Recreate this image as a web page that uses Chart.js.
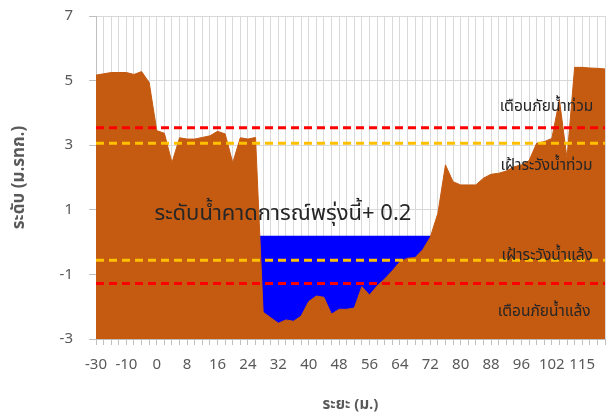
<!DOCTYPE html>
<html>
<head>
<meta charset="utf-8">
<script src="https://cdn.jsdelivr.net/npm/chart.js@4.4.1/dist/chart.umd.min.js"></script>
<style>
  body { margin: 0; background: #fff; }
  canvas { display: block; }
</style>
</head>
<body>
<canvas id="grafico" width="616" height="417"></canvas>
<script>
// ระยะ (ม.) - categories on the x axis
const distances = [
  -30, -25, -20, -15, -10, -7.5, -5, -2.5,
  0, 2, 4, 6, 8, 10, 12, 14, 16, 18, 20, 22, 24, 26, 28, 30, 32, 34, 36, 38,
  40, 42, 44, 46, 48, 50, 52, 54, 56, 58, 60, 62, 64, 66, 68, 70, 72, 74, 76, 78,
  80, 82, 84, 86, 88, 90, 92, 94, 96,
  98, 100, 101, 102, 105, 108, 112, 115, 118, 121, 124
];

// ระดับท้องน้ำ / ตลิ่ง (ม.รทก.)
const groundLevel = [
  5.17, 5.21, 5.25, 5.25, 5.25, 5.19, 5.28, 4.94, 3.45, 3.37,
  2.46, 3.23, 3.19, 3.19, 3.24, 3.29, 3.43, 3.35, 2.46, 3.23,
  3.19, 3.24, -2.17, -2.34, -2.51, -2.41, -2.45, -2.29, -1.84, -1.67,
  -1.71, -2.23, -2.08, -2.08, -2.04, -1.38, -1.64, -1.36, -1.14, -0.89,
  -0.61, -0.50, -0.48, -0.24, 0.15, 0.89, 2.39, 1.87, 1.77, 1.77,
  1.77, 1.98, 2.10, 2.13, 2.20, 2.33, 2.39, 2.52, 3.06, 3.11,
  3.21, 4.40, 2.59, 5.41, 5.41, 5.39, 5.38, 5.36
];

// ระดับน้ำคาดการณ์ และเกณฑ์เตือนภัย
const forecastLevel = 0.2;
const floodWarning = 3.54;
const floodWatch = 3.06;
const droughtWatch = -0.56;
const droughtWarning = -1.28;

// ป้ายข้อความบนกราฟ (ตำแหน่งอ้างอิงดัชนีหมวดและค่า)
const textLabels = [
  { text: "เตือนภัยน้ำท่วม", at: 59.3, level: 4.15, size: 15.5 },
  { text: "เฝ้าระวังน้ำท่วม", at: 59.3, level: 2.33, size: 15.5 },
  { text: "เฝ้าระวังน้ำแล้ง", at: 59.4, level: -0.45, size: 15.5 },
  { text: "เตือนภัยน้ำแล้ง", at: 59.0, level: -2.2, size: 15.5 },
  { text: "ระดับน้ำคาดการณ์พรุ่งนี้+ 0.2", at: 24.6, level: 0.81, size: 22 }
];

const flat = v => distances.map(() => v);
const thaiFont = "Tahoma, 'Noto Sans Thai', 'Noto Sans', sans-serif";

const labelPlugin = {
  id: "thaiLabels",
  afterDatasetsDraw(chart) {
    const { ctx, scales } = chart;
    const step = scales.x.getPixelForValue(1) - scales.x.getPixelForValue(0);
    ctx.save();
    ctx.fillStyle = "#262626";
    ctx.textAlign = "center";
    ctx.textBaseline = "middle";
    textLabels.forEach(l => {
      const x = scales.x.getPixelForValue(0) + l.at * step;
      const y = scales.y.getPixelForValue(l.level);
      ctx.font = l.size + "px " + thaiFont;
      ctx.fillText(l.text, x, y);
    });
    ctx.restore();
  }
};

function dashed(data, color) {
  return {
    data: data,
    borderColor: color,
    borderWidth: 3,
    borderDash: [8, 5],
    pointRadius: 0,
    fill: false,
    order: 0
  };
}

new Chart(document.getElementById("grafico"), {
  type: "line",
  data: {
    labels: distances,
    datasets: [
      dashed(flat(floodWarning), "#FF0000"),
      dashed(flat(floodWatch), "#FFC000"),
      dashed(flat(droughtWatch), "#FFC000"),
      dashed(flat(droughtWarning), "#FF0000"),
      {
        data: groundLevel,
        borderColor: "#C55A11",
        backgroundColor: "#C55A11",
        borderWidth: 1,
        pointRadius: 0,
        tension: 0,
        fill: "start",
        order: 1
      },
      {
        data: flat(forecastLevel),
        borderColor: "#0000FF",
        backgroundColor: "#0000FF",
        borderWidth: 0,
        pointRadius: 0,
        fill: "start",
        order: 2
      }
    ]
  },
  options: {
    responsive: false,
    animation: false,
    devicePixelRatio: 1,
    layout: { padding: { top: 16, right: 2, bottom: 2, left: 0 } },
    plugins: { legend: { display: false }, tooltip: { enabled: false } },
    scales: {
      x: {
        type: "category",
        offset: false,
        afterFit: s => { s.height = 76; },
        grid: { color: "#D9D9D9", tickColor: "#BFBFBF", tickLength: 6 },
        border: { color: "#BFBFBF" },
        ticks: {
          autoSkip: false,
          maxRotation: 0,
          padding: 11,
          color: "#595959",
          font: { size: 15, family: "'Noto Sans', sans-serif" },
          callback: (v, i) => (i % 4 === 0 ? distances[i] : "")
        },
        title: {
          display: true,
          text: "ระยะ (ม.)",
          color: "#595959",
          font: { size: 15, weight: "bold", family: thaiFont },
          padding: { top: 6, bottom: 0 }
        }
      },
      y: {
        min: -3,
        max: 7,
        afterFit: s => {
          s.width = 96;
          s.paddingTop = 0;
          s.paddingBottom = 0;
        },
        grid: { color: "#D9D9D9", tickColor: "#BFBFBF", tickLength: 7 },
        border: { color: "#BFBFBF" },
        ticks: {
          stepSize: 2,
          padding: 16,
          color: "#595959",
          font: { size: 15, family: "'Noto Sans', sans-serif" }
        },
        title: {
          display: true,
          text: "ระดับ (ม.รทก.)",
          color: "#595959",
          font: { size: 17, weight: "bold", family: thaiFont },
          padding: { top: 10, bottom: 6 }
        }
      }
    }
  },
  plugins: [labelPlugin]
});
</script>
</body>
</html>
